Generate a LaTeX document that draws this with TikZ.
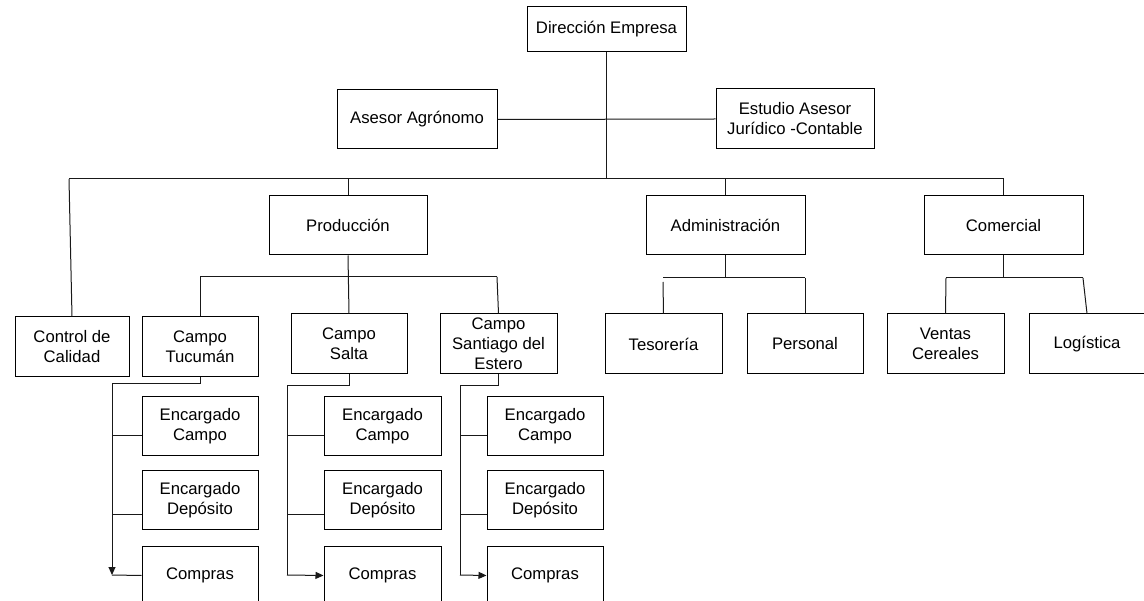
\documentclass[tikz,border=0pt]{standalone}
\usepackage{fontspec}
\setmainfont{Liberation Sans}
\usetikzlibrary{arrows.meta}
\begin{document}
\begin{tikzpicture}[x=1pt,y=-1pt,
  box/.style={draw=black, line width=1pt, fill=white, align=center, inner sep=0pt,
    font=\fontsize{16.7}{20}\selectfont},
  big/.style={box, minimum width=159pt, minimum height=59pt},
  small/.style={box, minimum width=116pt, minimum height=59pt},
  con/.style={draw=black!90, line width=1pt},
  arr/.style={con, -{Triangle[length=8pt,width=7pt]}}]
\clip (0,0) rectangle (1144,601);
\useasboundingbox (0,0) rectangle (1144,601);
\fill[white] (0,0) rectangle (1144,601);

% top level
\node[big, minimum height=45pt] (dir) at (606.5,29.5) {Dirección Empresa};
\node[big, minimum width=160pt] (ase) at (417,119.5) {Asesor Agrónomo};
\node[big, minimum width=158pt, minimum height=60pt] (est) at (795,119) {Estudio Asesor\\ Jurídico -Contable};

\node[big, minimum width=158pt] (prod) at (348,225.5) {Producción};
\node[big] (adm) at (725.5,225.5) {Administración};
\node[big] (com) at (1003.5,225.5) {Comercial};

\node[small, minimum width=114pt, minimum height=60pt] (ctrl) at (72,347) {Control de\\Calidad};
\node[small, minimum height=60pt] (tuc) at (200,347) {Campo\\Tucumán};
\node[small, minimum height=60pt] (sal) at (349,344) {Campo\\Salta};
\node[small, minimum width=117pt, minimum height=60pt] (san) at (498.5,344) {Campo\\Santiago del\\Estero};
\node[small, minimum width=117pt, minimum height=60pt] (tes) at (663.5,344) {Tesorería};
\node[small, minimum height=60pt] (per) at (805,344) {Personal};
\node[small, minimum width=117pt, minimum height=60pt] (ven) at (945.5,344) {Ventas\\Cereales};
\node[small, minimum height=60pt] (log) at (1087,344) {Logística};

% sub boxes
\node[small] (ec1) at (200,426.5) {Encargado\\Campo};
\node[small] (ed1) at (200,500.5) {Encargado\\Depósito};
\node[small] (cp1) at (200,575.5) {Compras};
\node[small, minimum width=117pt] (ec2) at (382.5,426.5) {Encargado\\Campo};
\node[small, minimum width=117pt] (ed2) at (382.5,500.5) {Encargado\\Depósito};
\node[small, minimum width=117pt] (cp2) at (382.5,575.5) {Compras};
\node[small] (ec3) at (545,426.5) {Encargado\\Campo};
\node[small] (ed3) at (545,500.5) {Encargado\\Depósito};
\node[small] (cp3) at (545,575.5) {Compras};

% coordinates
\coordinate (b0) at (606.5,179);
\coordinate (bl) at (69,179);
\coordinate (bp) at (348,179);
\coordinate (ba) at (725.5,179);
\coordinate (bc) at (1003.5,179);

\coordinate (pl) at (200,277);
\coordinate (pr) at (497,277);
\coordinate (al) at (663,278);
\coordinate (ar) at (805,278);
\coordinate (tg) at (663,282);
\coordinate (cl) at (946,278);
\coordinate (cr) at (1083,278);

% main connectors
\draw[con] (dir.south) -- (b0);
\draw[con] (ase.east) -- (est.west);
\draw[con] (bl) -- (bc);
\draw[con] (bl) -- (ctrl.north);
\draw[con] (bp) -- (prod.north);
\draw[con] (ba) -- (adm.north);
\draw[con] (bc) -- (com.north);

% production
\draw[con] (prod.south) -- (sal.north);
\draw[con] (pl) -- (pr);
\draw[con] (pl) -- (tuc.north);
\draw[con] (pr) -- (san.north);

% administration
\draw[con] (adm.south) -- (725.5,278);
\draw[con] (al) -- (ar);
\draw[con] (tg) -- (tes.north);
\draw[con] (ar) -- (per.north);

% commercial
\draw[con] (com.south) -- (1003.5,278);
\draw[con] (cl) -- (cr);
\draw[con] (cl) -- (ven.north);
\draw[con] (cr) -- (log.north);

% Tucuman column
\coordinate (t1) at (112,384);
\coordinate (t2) at (112,575);
\draw[con] (tuc.south) |- (t1);
\draw[arr] (t1) -- (t2);
\draw[con] (t2) -- (cp1.west);
\draw[con] (112,436) -- (ec1.west |- 0,436);
\draw[con] (112,515) -- (ed1.west |- 0,515);

% Salta column
\coordinate (s1) at (287,386);
\coordinate (s2) at (287,575);
\draw[con] (sal.south) |- (s1);
\draw[con] (s1) -- (s2);
\draw[arr] (s2) -- (cp2.west);
\draw[con] (287,436) -- (ec2.west |- 0,436);
\draw[con] (287,515) -- (ed2.west |- 0,515);

% Santiago column
\coordinate (g1) at (460,386);
\coordinate (g2) at (460,575);
\draw[con] (san.south) |- (g1);
\draw[con] (g1) -- (g2);
\draw[arr] (g2) -- (cp3.west);
\draw[con] (460,436) -- (ec3.west |- 0,436);
\draw[con] (460,515) -- (ed3.west |- 0,515);
\end{tikzpicture}
\end{document}
